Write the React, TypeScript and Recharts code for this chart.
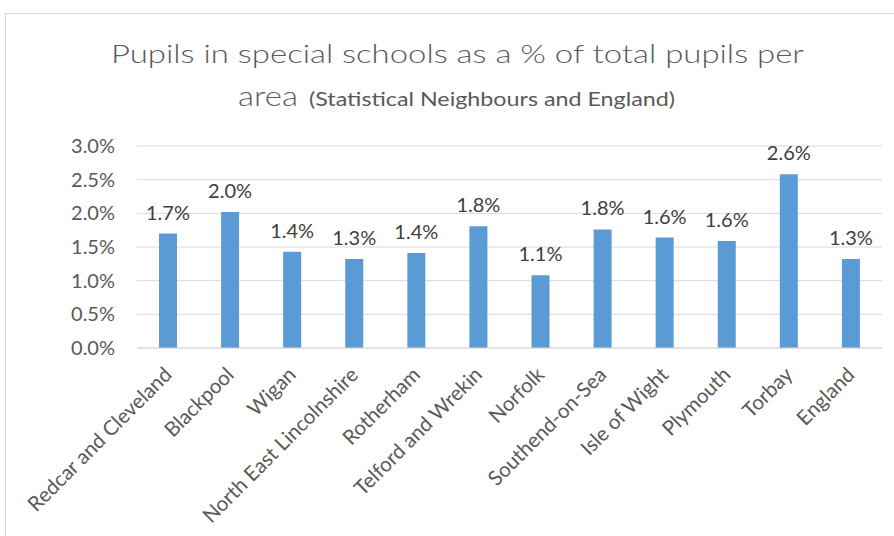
import React from 'react';
import { BarChart, Bar, XAxis, YAxis, CartesianGrid, LabelList } from 'recharts';

const categories = [
  'Redcar and Cleveland',
  'Blackpool',
  'Wigan',
  'North East Lincolnshire',
  'Rotherham',
  'Telford and Wrekin',
  'Norfolk',
  'Southend-on-Sea',
  'Isle of Wight',
  'Plymouth',
  'Torbay',
  'England',
];

const values = [1.70, 2.02, 1.43, 1.32, 1.41, 1.81, 1.08, 1.76, 1.64, 1.59, 2.58, 1.32];

const yTicks = [0, 0.5, 1, 1.5, 2, 2.5, 3];

const titleLine1 = 'Pupils in special schools as a % of total pupils per';
const titleLine2Main = 'area';
const titleLine2Sub = '(Statistical Neighbours and England)';

const data = categories.map((name, i) => ({ name, value: values[i] }));

const FONT = 'Lato, "Open Sans", sans-serif';
const AXIS_COLOR = '#595959';

const pct = (v: number) => `${v.toFixed(1)}%`;

const XTick = (props: any) => {
  const { x, y, payload } = props;
  const ax = x + 5;
  const ay = y + 20;
  return (
    <text
      x={ax}
      y={ay}
      textAnchor="end"
      transform={`rotate(-45, ${ax}, ${ay})`}
      fill={AXIS_COLOR}
      fontSize={20.5}
      fontFamily={FONT}
    >
      {payload.value}
    </text>
  );
};

export default function App() {
  return (
    <div
      style={{
        position: 'absolute',
        left: 0,
        top: 0,
        width: 894,
        height: 536,
        background: '#fff',
        overflow: 'hidden',
      }}
    >
      <div
        style={{
          position: 'absolute',
          left: 5,
          top: 13,
          width: 1000,
          height: 1000,
          border: '1px solid #d9d9d9',
        }}
      />
      <div style={{ position: 'absolute', left: 0, top: 0 }}>
        <BarChart
          width={894}
          height={536}
          data={data}
          margin={{ top: 146, right: 12, bottom: 0, left: 0 }}
        >
          <CartesianGrid vertical={false} stroke="#d9d9d9" />
          <XAxis
            dataKey="name"
            interval={0}
            height={188}
            tickLine={false}
            axisLine={{ stroke: '#d9d9d9' }}
            tick={<XTick />}
          />
          <YAxis
            width={137}
            domain={[0, 3]}
            ticks={yTicks}
            tickFormatter={pct}
            axisLine={false}
            tickLine={false}
            tickMargin={16}
            tick={{ fill: AXIS_COLOR, fontSize: 20, fontFamily: FONT }}
          />
          <Bar dataKey="value" fill="#5b9bd5" barSize={18} isAnimationActive={false}>
            <LabelList
              dataKey="value"
              position="top"
              offset={14}
              formatter={(v: any) => pct(Number(v))}
              fill="#404040"
              fontSize={20}
              fontFamily={FONT}
            />
          </Bar>
        </BarChart>
      </div>
      <svg
        width={894}
        height={140}
        style={{ position: 'absolute', left: 0, top: 0, pointerEvents: 'none' }}
      >
        <text
          x={111}
          y={63}
          textLength={693}
          lengthAdjust="spacingAndGlyphs"
          fill={AXIS_COLOR}
          fontSize={26}
          fontWeight={300}
          fontFamily={FONT}
        >
          {titleLine1}
        </text>
        <text
          x={238}
          y={106}
          textLength={60}
          lengthAdjust="spacingAndGlyphs"
          fill={AXIS_COLOR}
          fontSize={28}
          fontWeight={300}
          fontFamily={FONT}
        >
          {titleLine2Main}
        </text>
        <text
          x={309}
          y={106}
          textLength={366}
          lengthAdjust="spacingAndGlyphs"
          fill={AXIS_COLOR}
          fontSize={19}
          fontFamily={FONT}
        >
          {titleLine2Sub}
        </text>
      </svg>
    </div>
  );
}
